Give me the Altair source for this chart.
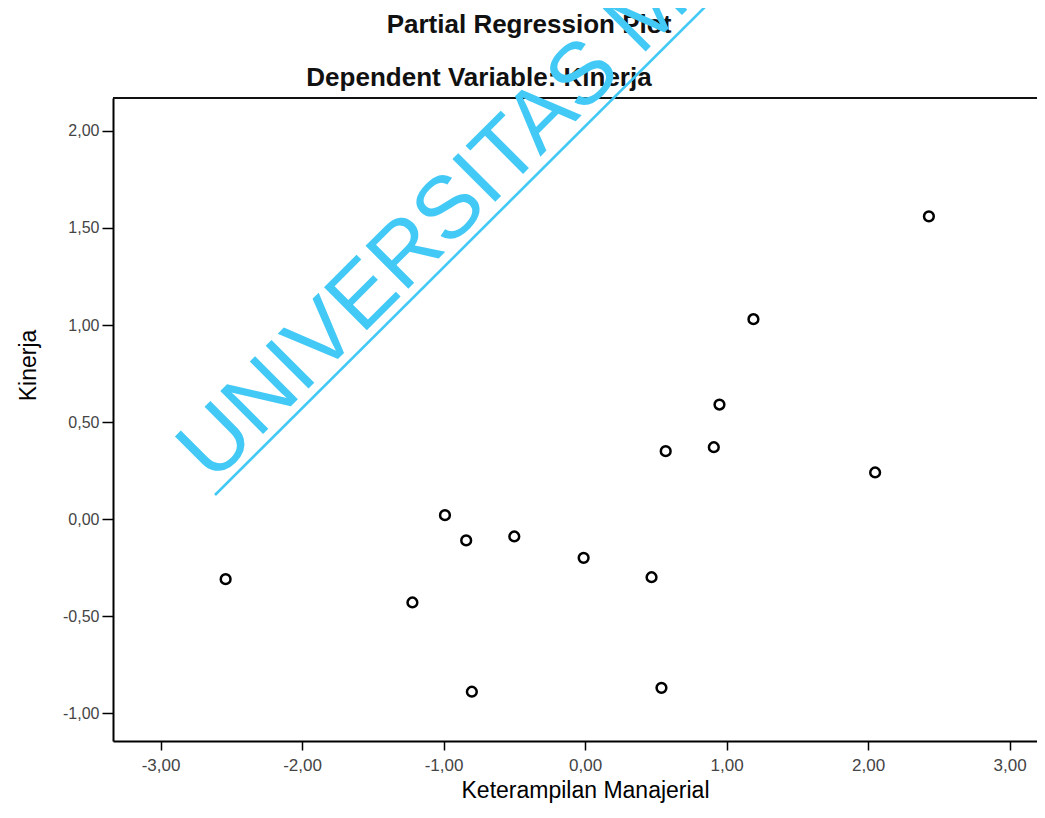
import altair as alt
import pandas as pd

# ---- data ----
x_vals = [-2.54, -1.22, -0.99, -0.84, -0.50, -0.80, -0.01, 0.47, 0.54, 0.57, 0.91, 0.95, 1.19, 2.05, 2.43]
y_vals = [-0.31, -0.43, 0.02, -0.11, -0.09, -0.89, -0.20, -0.30, -0.87, 0.35, 0.37, 0.59, 1.03, 0.24, 1.56]
x_ticks = [-3, -2, -1, 0, 1, 2, 3]
y_ticks = [-1.0, -0.5, 0.0, 0.5, 1.0, 1.5, 2.0]
title_main = ["Partial Regression Plot"]
title_sub = ["Dependent Variable:  Kinerja"]
x_title = "Keterampilan Manajerial"
y_title = "Kinerja"
watermark = ["UNIVERSITAS MEDAN AREA"]

df = pd.DataFrame({"x": x_vals, "y": y_vals})

W, H = 924, 643
label_expr = "(datum.value < 0 ? '-' : '') + replace(format(abs(datum.value), '.2f'), '.', ',')"

x_enc = alt.X(
    "x:Q",
    scale=alt.Scale(domain=[-3.336, 3.194], nice=False, zero=False),
    axis=alt.Axis(
        values=x_ticks, labelExpr=label_expr, grid=False,
        tickSize=9, tickColor="black", tickWidth=1.5,
        domainColor="black", domainWidth=2,
        labelFont="Liberation Sans", labelFontSize=17, labelColor="#444",
        labelPadding=7,
        title=x_title, titleFont="Liberation Sans", titleFontSize=23,
        titleFontWeight="normal", titleColor="black",
        titleX=472, titleY=56, titleBaseline="alphabetic", titleAlign="center",
    ),
)
y_enc = alt.Y(
    "y:Q",
    scale=alt.Scale(domain=[-1.144, 2.17], nice=False, zero=False),
    axis=alt.Axis(
        values=y_ticks, labelExpr=label_expr, grid=False,
        tickSize=11, tickColor="black", tickWidth=1.5,
        domainColor="black", domainWidth=2,
        labelFont="Liberation Sans", labelFontSize=16, labelColor="#444",
        labelPadding=3,
        title=y_title, titleFont="Liberation Sans", titleFontSize=23,
        titleFontWeight="normal", titleColor="black",
        titleX=-78, titleY=267, titleAngle=270,
        titleBaseline="alphabetic", titleAlign="center",
    ),
)

points = alt.Chart(df).mark_point(
    shape="circle", filled=False, color="black", size=95, strokeWidth=2.5, opacity=1
).encode(x=x_enc, y=y_enc)

one = pd.DataFrame({"k": [0]})
top_frame = alt.Chart(one).mark_rule(color="#111", strokeWidth=2).encode(y=alt.value(0))

t1 = alt.Chart(pd.DataFrame({"t": title_main})).mark_text(
    font="Liberation Sans", fontSize=26, fontWeight="bold", color="#111",
    align="center", baseline="alphabetic", clip=False,
).encode(text="t:N", x=alt.value(416), y=alt.value(-65))

t2 = alt.Chart(pd.DataFrame({"t": title_sub})).mark_text(
    font="Liberation Sans", fontSize=26, fontWeight="bold", color="#111",
    align="center", baseline="alphabetic", clip=False,
).encode(text="t:N", x=alt.value(366), y=alt.value(-12))

wm_text = alt.Chart(pd.DataFrame({"t": watermark})).mark_text(
    font="Liberation Sans", fontSize=88, color="#42C9F6", angle=315,
    align="left", baseline="alphabetic", clip=False,
).encode(text="t:N", x=alt.value(100), y=alt.value(386))

wm_line = alt.Chart(one).mark_rule(color="#42C9F6", strokeWidth=2.6, clip=False).encode(
    x=alt.value(102), y=alt.value(397), x2=alt.value(607), y2=alt.value(-106)
)

chart = alt.layer(points, top_frame, t1, t2, wm_text, wm_line).properties(
    width=W, height=H,
    autosize=alt.AutoSizeParams(type="none"),
    padding={"left": 105, "top": 90, "right": 0, "bottom": 62},
    background="white",
).configure_view(stroke=None)

chart.save("out.html", embed_options={"renderer": "svg", "actions": False})
